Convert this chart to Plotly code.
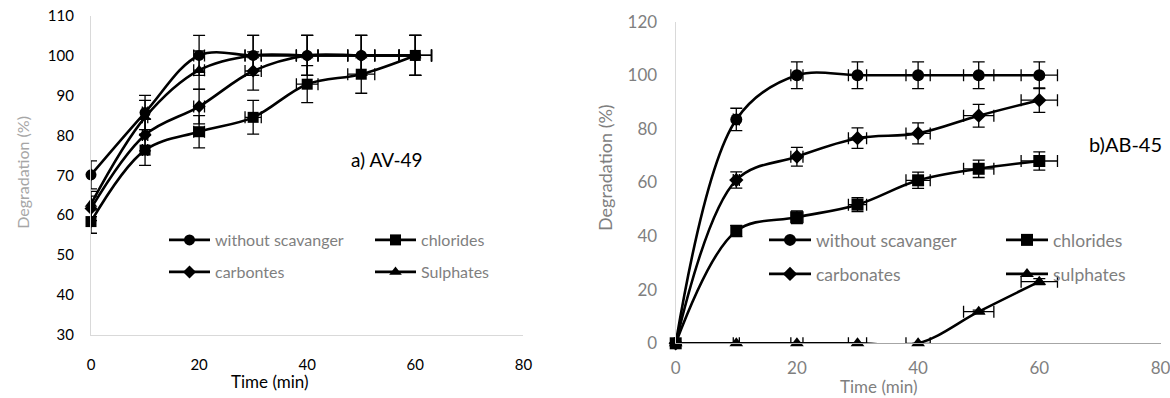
import plotly.graph_objects as go

# ---- data -------------------------------------------------------------
time_min = [0, 10, 20, 30, 40, 50, 60]

# a) AV-49
av_without = [70.1, 85.7, 100, 100, 100, 100, 100]
av_chlorides = [58.4, 76.3, 80.9, 84.5, 92.8, 95.3, 100]
av_carbonates = [61.7, 80.1, 87.2, 96.1, 100, 100, 100]
av_sulphates = [62.8, 84.5, 96.3, 100, 100, 100, 100]

# b) AB-45
ab_without = [0, 83.5, 100, 100, 100, 100, 100]
ab_chlorides = [0, 41.9, 47.0, 51.7, 60.8, 65.1, 68.0]
ab_carbonates = [0, 60.9, 69.6, 76.5, 78.3, 84.9, 90.7]
ab_sulphates = [0, 0, 0, 0, 0, 11.8, 23.0]

av_names = ["without scavanger", "chlorides", "carbontes", "Sulphates"]
ab_names = ["without scavanger", "chlorides", "carbonates", "sulphates"]
symbols = ["circle", "square", "diamond", "triangle-up"]
av_marker_sizes = [11, 11, 10, 11]
ab_marker_sizes = [12, 12, 11, 12]

# ---- layout helpers ----------------------------------------------------
W, H = 1170, 398
FONT = "Lato"


def px(x):
    return x / W


def py(y):
    return 1 - y / H


fig = go.Figure()

err_pct = 5.0


def add_series(x, y, name, symbol, size, xa, ya, legend):
    fig.add_trace(go.Scatter(
        x=x, y=y, name=name, mode="lines+markers",
        line=dict(color="black", width=2.6, shape="spline", smoothing=1.0),
        marker=dict(symbol=symbol, size=size, color="black"),
        error_y=dict(type="percent", value=err_pct, color="black",
                     thickness=1.3, width=6),
        error_x=dict(type="percent", value=err_pct, color="black",
                     thickness=1.3, width=6),
        xaxis=xa, yaxis=ya, legend=legend, cliponaxis=False,
    ))


av_data = [av_without, av_chlorides, av_carbonates, av_sulphates]
ab_data = [ab_without, ab_chlorides, ab_carbonates, ab_sulphates]
# one legend box per entry, laid out as a 2 x 2 grid inside each panel
av_legends = ["legend", "legend2", "legend3", "legend4"]
ab_legends = ["legend5", "legend6", "legend7", "legend8"]

for vals, name, sym, sz, lg in zip(av_data, av_names, symbols, av_marker_sizes, av_legends):
    add_series(time_min, vals, name, sym, sz, "x", "y", lg)
for vals, name, sym, sz, lg in zip(ab_data, ab_names, symbols, ab_marker_sizes, ab_legends):
    add_series(time_min, vals, name, sym, sz, "x2", "y2", lg)


def legend_box(x_left, y_mid, size, item_w):
    return dict(
        x=px(x_left), y=py(y_mid), xanchor="left", yanchor="middle",
        orientation="h", bgcolor="rgba(0,0,0,0)", itemwidth=item_w,
        font=dict(family=FONT, size=size, color="#7f7f7f"),
    )


axis_common = dict(showgrid=False, zeroline=False, showline=True,
                   linecolor="#d9d9d9", linewidth=1.2,
                   ticklabeloverflow="allow")
# invisible tick marks are used only to hold the value labels off the y axes
hidden_ticks = dict(ticks="outside", tickcolor="rgba(0,0,0,0)", tickwidth=1)

legend_layout = {}
# left panel grid: columns start at 164 / 370, rows centred at 240 / 272
for key, (lx, ly) in zip(av_legends, [(164, 240), (370, 240), (164, 272), (370, 272)]):
    legend_layout[key] = legend_box(lx, ly, 16, 41)
# right panel grid
for key, (lx, ly) in zip(ab_legends, [(764, 240), (1001, 240), (764, 274), (1001, 274)]):
    legend_layout[key] = legend_box(lx, ly, 17.5, 42)

fig.update_layout(
    width=W, height=H,
    margin=dict(l=0, r=0, t=0, b=0, autoexpand=False),
    paper_bgcolor="white", plot_bgcolor="white",
    showlegend=True,
    xaxis=dict(domain=[px(91), px(523.4)], range=[0, 80], dtick=20,
               tickfont=dict(family=FONT, size=15, color="black"),
               ticks="", ticklabelstandoff=16, anchor="y", **axis_common),
    yaxis=dict(domain=[py(335), py(15.5)], range=[30, 110], dtick=10,
               tickfont=dict(family=FONT, size=15, color="black"),
               ticklen=13, anchor="x", **hidden_ticks, **axis_common),
    xaxis2=dict(domain=[px(675.7), px(1160.5)], range=[0, 80], dtick=20,
                tickfont=dict(family=FONT, size=17, color="#7f7f7f"),
                ticks="", ticklabelstandoff=9, anchor="y2",
                showgrid=False, zeroline=False, showline=True,
                linecolor="#a6a6a6", linewidth=1.2,
                ticklabeloverflow="allow"),
    yaxis2=dict(domain=[py(343.3), py(21.6)], range=[0, 120], dtick=20,
                tickfont=dict(family=FONT, size=17, color="#7f7f7f"),
                ticklen=14, anchor="x2", **hidden_ticks, **axis_common),
    **legend_layout,
)

# axis titles and panel labels
annotations = [
    dict(text="Time (min)", x=px(270), y=py(381.5), font=dict(size=17, color="black")),
    dict(text="Degradation (%)", x=px(21.7), y=py(172), textangle=-90,
         font=dict(size=16, color="#a6a6a6")),
    dict(text="a) AV-49", x=px(387), y=py(159), font=dict(size=19, color="black")),
    dict(text="Time (min)", x=px(879), y=py(386.5), font=dict(size=17, color="#7f7f7f")),
    dict(text="Degradation (%)", x=px(605), y=py(168), textangle=-90,
         font=dict(size=18, color="#7f7f7f")),
    dict(text="b)AB-45", x=px(1125), y=py(144), font=dict(size=20, color="black")),
]
for a in annotations:
    a["font"]["family"] = FONT
    fig.add_annotation(xref="paper", yref="paper", showarrow=False,
                       xanchor="center", yanchor="middle", **a)

fig.write_html("out.html")
